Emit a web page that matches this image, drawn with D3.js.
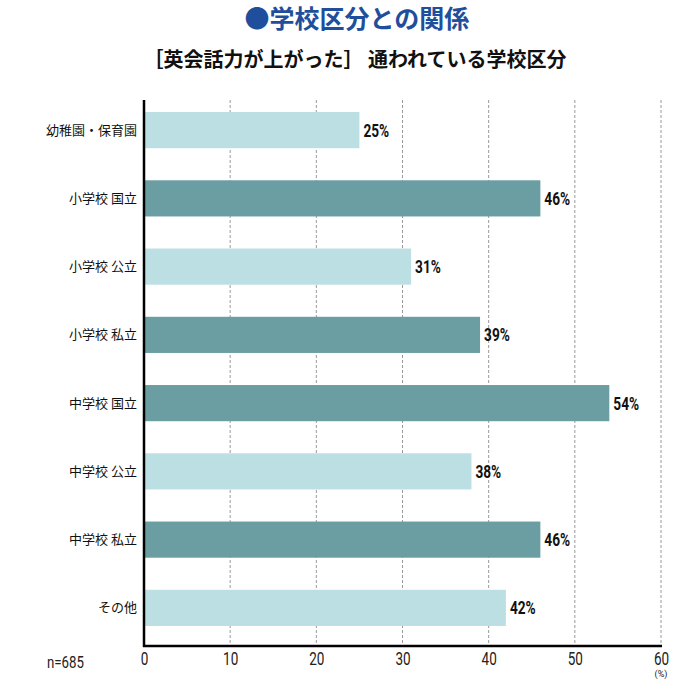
<!DOCTYPE html>
<html><head><meta charset="utf-8">
<script src="https://cdn.jsdelivr.net/npm/d3@7"></script>
<style>body{margin:0;background:#fff}</style>
</head><body>
<svg id="chart" width="700" height="689"></svg>
<script>
const categories = ["幼稚園・保育園","小学校 国立","小学校 公立","小学校 私立","中学校 国立","中学校 公立","中学校 私立","その他"];
const values = [25,46,31,39,54,38,46,42];
const barTypes = ["light","dark","light","dark","dark","light","dark","light"];
const xTicks = [0,10,20,30,40,50,60];
const title = "●学校区分との関係";
const subtitle = "［英会話力が上がった］ 通われている学校区分";

(function(){
const svg = d3.select("#chart");
const jp = "'Noto Sans CJK JP', sans-serif";
const narrow = "'Roboto', 'Liberation Sans', sans-serif";
const colors = {light:"#bcdfe3", dark:"#6b9ea3"};
function condense(sel, f){
  sel.each(function(){
    const w = this.getComputedTextLength();
    d3.select(this).attr("textLength", w*f).attr("lengthAdjust","spacingAndGlyphs");
  });
}

const mLeft = 144, mRight = 661, mTop = 96, mBottom = 642, axisY = 646;
const x = d3.scaleLinear().domain([0,60]).range([mLeft,mRight]);
const y = d3.scaleBand().domain(categories).range([mTop,mBottom]).paddingInner(0.47).paddingOuter(0.235);

svg.append("text").attr("x",357).attr("y",28).attr("text-anchor","middle")
  .attr("font-family",jp).attr("font-weight","bold").attr("font-size",25).attr("fill","#1f4f9c").text(title);
svg.append("text").attr("x",355).attr("y",67).attr("text-anchor","middle")
  .attr("font-family",jp).attr("font-weight","bold").attr("font-size",20).attr("fill","#111").text(subtitle);

svg.append("g").selectAll("line").data(xTicks.filter(d=>d>0)).join("line")
  .attr("x1",d=>x(d)).attr("x2",d=>x(d)).attr("y1",100).attr("y2",axisY)
  .attr("stroke","#999").attr("stroke-width",1).attr("stroke-dasharray","3,2");

svg.append("g").selectAll("rect").data(values).join("rect")
  .attr("x",x(0)).attr("y",(d,i)=>y(categories[i]))
  .attr("width",d=>x(d)-x(0)).attr("height",y.bandwidth())
  .attr("fill",(d,i)=>colors[barTypes[i]]);

const vl = svg.append("g").selectAll("text").data(values).join("text")
  .attr("x",d=>x(d)+4).attr("y",(d,i)=>y(categories[i])+y.bandwidth()/2+6.5)
  .attr("font-family",narrow).attr("font-weight","bold").attr("font-size",18).attr("fill","#111")
  .text(d=>d+"%");
condense(vl, 0.76);

svg.append("g").selectAll("text").data(categories).join("text")
  .attr("x",mLeft-7).attr("y",d=>y(d)+y.bandwidth()/2+4.5)
  .attr("text-anchor","end").attr("font-family",jp).attr("font-size",13).attr("fill","#111")
  .text(d=>d);

svg.append("line").attr("x1",mLeft).attr("x2",mLeft).attr("y1",100).attr("y2",axisY+1)
  .attr("stroke","#000").attr("stroke-width",2.5);
svg.append("line").attr("x1",mLeft-1).attr("x2",mRight+1).attr("y1",axisY).attr("y2",axisY)
  .attr("stroke","#000").attr("stroke-width",2.5);

const xAxis = d3.axisBottom(x).tickValues(xTicks).tickSize(0).tickPadding(0);
const ax = svg.append("g").attr("transform",`translate(0,${axisY})`).call(xAxis);
ax.select(".domain").remove();
ax.selectAll("text").attr("y",19).attr("dy",0).attr("font-family",narrow).attr("font-size",18).attr("fill","#222");
condense(ax.selectAll("text"), 0.75);

svg.append("text").attr("x",661).attr("y",677).attr("text-anchor","middle")
  .attr("font-family",narrow).attr("font-size",9).attr("fill","#222").text("(%)");
condense(svg.append("text").attr("x",47).attr("y",668)
  .attr("font-family",narrow).attr("font-size",17).attr("fill","#222").text("n=685"), 0.78);
})();
</script>
</body></html>
